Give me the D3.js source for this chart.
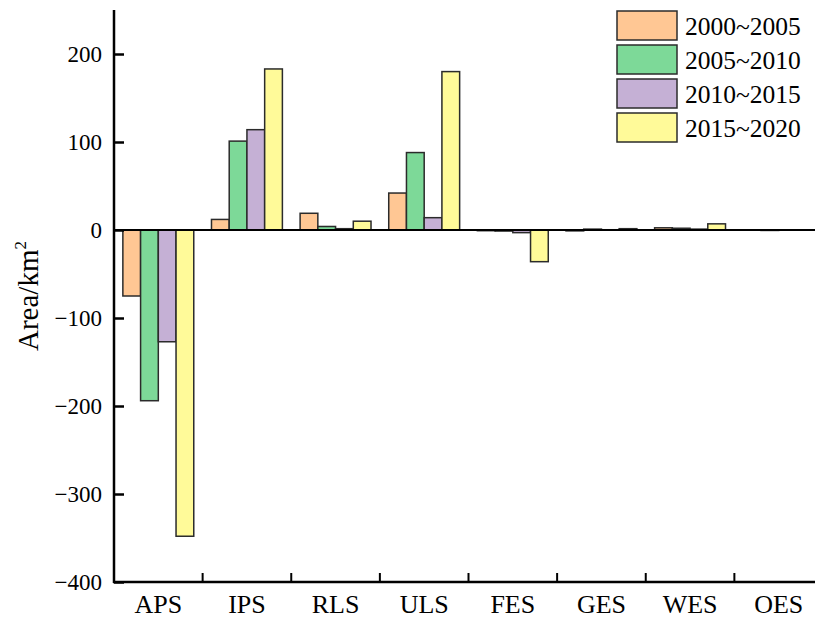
<!DOCTYPE html>
<html>
<head>
<meta charset="utf-8">
<script src="https://cdn.jsdelivr.net/npm/d3@7"></script>
<style>
  body { margin: 0; background: #fff; }
  svg { display: block; }
  text { font-family: "Liberation Serif", "DejaVu Serif", serif; fill: #000; }
</style>
</head>
<body>
<svg id="chart"></svg>
<script>
// categories and periods
const categories = ["APS", "IPS", "RLS", "ULS", "FES", "GES", "WES", "OES"];
const periods = ["2000~2005", "2005~2010", "2010~2015", "2015~2020"];
const colors = ["#FFC794", "#7DD998", "#C5B0D5", "#FFFA99"];

// area change (km2) per period, one array per series
const s2000_2005 = [-75, 12, 19, 42, -0.8, -1, 2.5, 0];
const s2005_2010 = [-194, 101, 4, 88, -1.2, 1, 2, -0.5];
const s2010_2015 = [-127, 114, 1.5, 14, -3, 0.3, 1, 0];
const s2015_2020 = [-348, 183, 10, 180, -36, 1.5, 7, 0];
const series = [s2000_2005, s2005_2010, s2010_2015, s2015_2020];

const yTicks = [-400, -300, -200, -100, 0, 100, 200];

const width = 815, height = 620;
const svg = d3.select("#chart").attr("width", width).attr("height", height);

// plot edges
const mLeft = 114, mRight = 823, mTop = 10, mBottom = 582;

const x = d3.scaleBand().domain(categories).range([mLeft, mRight]).paddingInner(0).paddingOuter(0);
const xi = d3.scaleBand().domain(d3.range(periods.length)).range([0, x.bandwidth()]).paddingOuter(0.5);
const y = d3.scaleLinear().domain([-400, 200]).range([mBottom, mBottom - 600 * 0.88]);

// bars
const g = svg.append("g");
series.forEach((vals, si) => {
  g.selectAll(".bar" + si)
    .data(vals)
    .join("rect")
    .attr("class", "bar" + si)
    .attr("x", (d, i) => x(categories[i]) + xi(si))
    .attr("width", xi.bandwidth())
    .attr("y", d => y(Math.max(0, d)))
    .attr("height", d => Math.abs(y(d) - y(0)))
    .attr("fill", colors[si])
    .attr("stroke", "#2b2b2b")
    .attr("stroke-width", 1.5);
});

// zero line
svg.append("line")
  .attr("x1", mLeft).attr("x2", width)
  .attr("y1", y(0)).attr("y2", y(0))
  .attr("stroke", "#000").attr("stroke-width", 2);

// y axis
const yAxis = svg.append("g")
  .attr("transform", `translate(${mLeft},0)`)
  .call(d3.axisLeft(y).tickValues(yTicks).tickSize(-10).tickPadding(12)
    .tickFormat(d => d < 0 ? "\u2212" + Math.abs(d) : d));
yAxis.select(".domain").remove();
yAxis.selectAll(".tick line").attr("stroke", "#000").attr("stroke-width", 2.5);
yAxis.selectAll(".tick text").style("font-size", "23px").attr("dy", "0.33em");
svg.append("line")
  .attr("x1", mLeft).attr("x2", mLeft).attr("y1", mTop).attr("y2", mBottom + 1)
  .attr("stroke", "#000").attr("stroke-width", 2.5);

// x axis
const xAxis = svg.append("g")
  .attr("transform", `translate(0,${mBottom})`)
  .call(d3.axisBottom(x).tickSize(0));
xAxis.select(".domain").remove();
xAxis.selectAll(".tick text").style("font-size", "26px").attr("y", 31).attr("dy", 0);
svg.append("g")
  .selectAll("line")
  .data(categories.slice(1))
  .join("line")
  .attr("x1", d => x(d)).attr("x2", d => x(d))
  .attr("y1", mBottom).attr("y2", mBottom - 9)
  .attr("stroke", "#000").attr("stroke-width", 2);
svg.append("line")
  .attr("x1", mLeft - 1).attr("x2", width).attr("y1", mBottom).attr("y2", mBottom)
  .attr("stroke", "#000").attr("stroke-width", 2.5);

// y label
svg.append("text")
  .attr("transform", `translate(38,296) rotate(-90)`)
  .attr("text-anchor", "middle")
  .style("font-size", "29px")
  .html("Area/km<tspan font-size='17px' dy='-12'>2</tspan>");

// legend
const legend = svg.append("g").attr("transform", "translate(617,11)");
periods.forEach((p, i) => {
  const row = legend.append("g").attr("transform", `translate(0,${i * 34})`);
  row.append("rect")
    .attr("width", 60).attr("height", 29)
    .attr("fill", colors[i]).attr("stroke", "#2b2b2b").attr("stroke-width", 1.5);
  row.append("text")
    .attr("x", 68).attr("y", 15).attr("dy", "0.35em")
    .style("font-size", "25.5px")
    .text(p);
});
</script>
</body>
</html>
